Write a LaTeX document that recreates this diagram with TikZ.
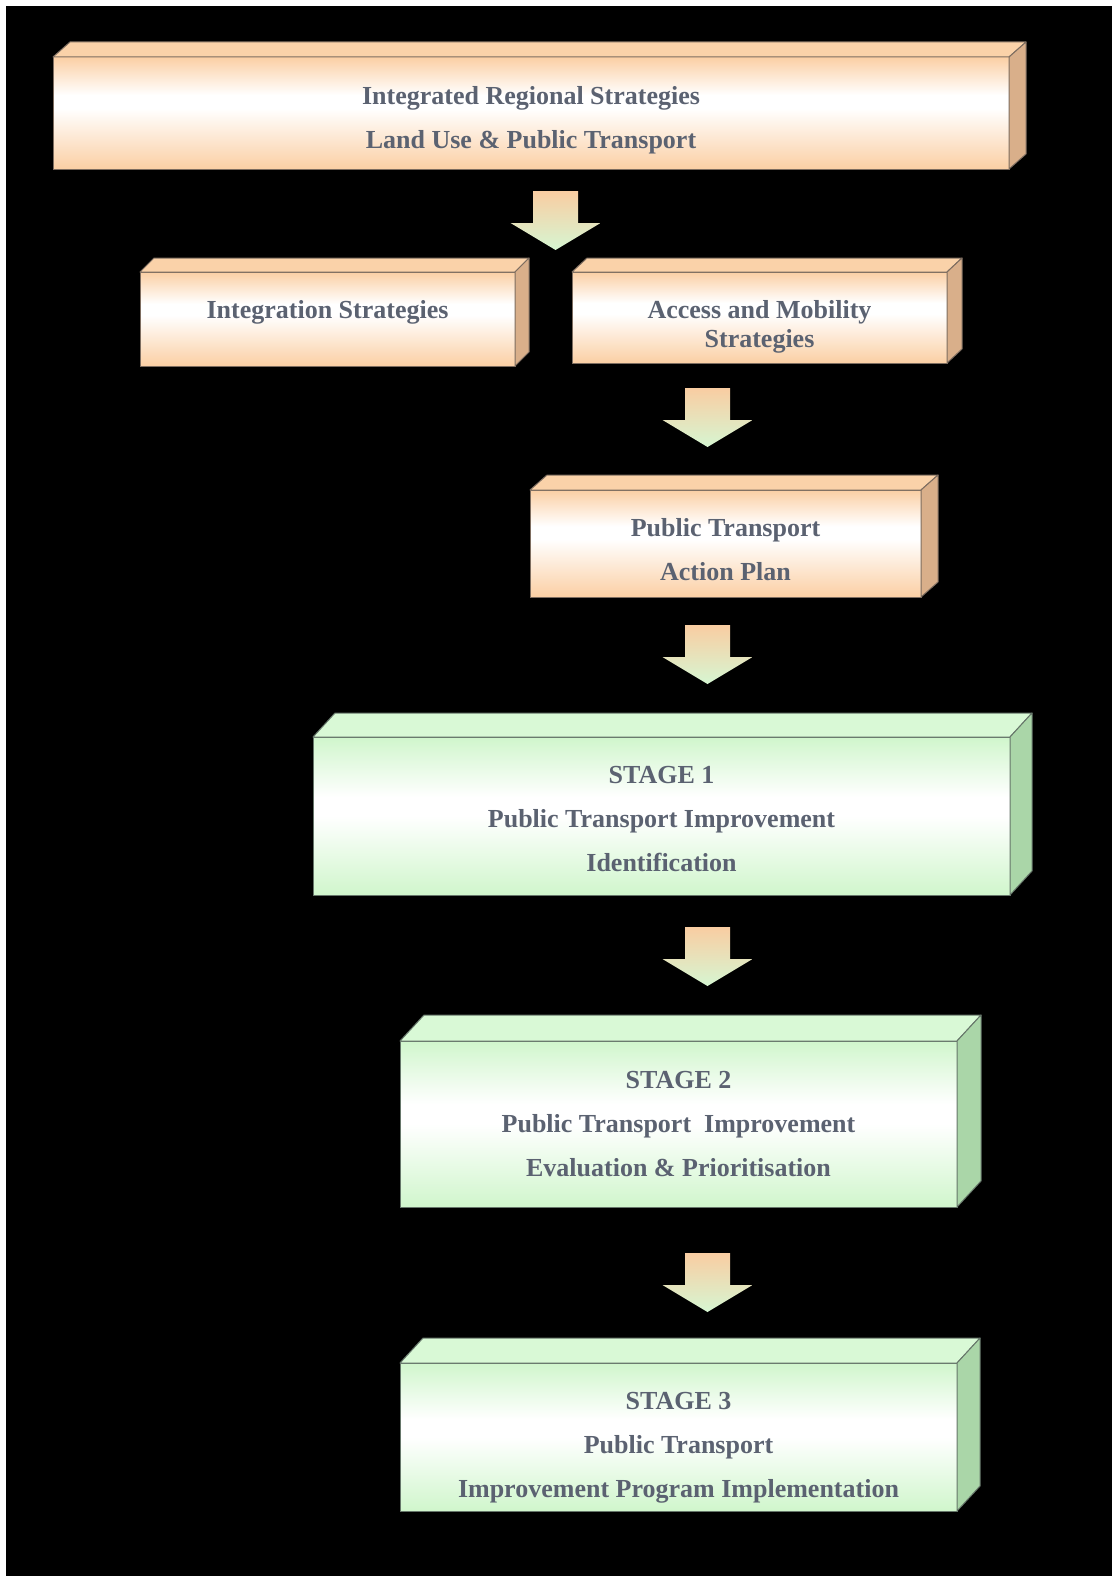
\documentclass[tikz,border=0pt]{standalone}
\usepackage{fontspec}
\setmainfont{Liberation Serif}
\usetikzlibrary{positioning,calc}
\definecolor{PeachFront}{HTML}{FBCFA4}
\definecolor{PeachTop}{HTML}{FAD2A9}
\definecolor{PeachSide}{HTML}{D9AF8A}
\definecolor{PeachLine}{HTML}{7D6D60}
\definecolor{MintFront}{HTML}{D0F6CC}
\definecolor{MintTop}{HTML}{D9F9D6}
\definecolor{MintSide}{HTML}{AAD6A8}
\definecolor{MintLine}{HTML}{66766A}
\definecolor{ArrowTop}{HTML}{F9CDA2}
\definecolor{ArrowTip}{HTML}{D6F6D2}
\definecolor{Ink}{HTML}{5B6271}

\pgfdeclareverticalshading{peachfade}{100bp}{color(0bp)=(PeachFront); color(25bp)=(PeachFront); color(52bp)=(white); color(58bp)=(white); color(75bp)=(PeachFront); color(100bp)=(PeachFront)}
\pgfdeclareverticalshading{mintfade}{100bp}{color(0bp)=(MintFront); color(25bp)=(MintFront); color(50bp)=(white); color(56bp)=(white); color(75bp)=(MintFront); color(100bp)=(MintFront)}

\tikzset{
  slab/.style={draw, line width=1pt, inner sep=0pt, outer sep=0pt},
  peachslab/.style={slab, draw=PeachLine, shade, shading=peachfade},
  mintslab/.style={slab, draw=MintLine, shade, shading=mintfade},
  slabtext/.style={inner sep=0pt, align=center, text=Ink,
    font=\fontsize{26}{44}\selectfont\bfseries},
  face/.style={line width=1pt, line join=round},
  flowarrow/.pic={
    \shade[top color=ArrowTop, bottom color=ArrowTip]
      (-22.5,0) -- (22.5,0) -- (22.5,32) -- (45,32) -- (0,59)
      -- (-45,32) -- (-22.5,32) -- cycle;
  }
}

\begin{document}
\begin{tikzpicture}[x=1pt,y=-1pt]
  \fill[white] (0,0) rectangle (1112,1576);
  \fill[black] (6,6) rectangle (1112,1576);
  \useasboundingbox (0,0) rectangle (1112,1576);

  % front faces
  \node[peachslab, minimum width=956pt, minimum height=112pt] (regional) at (531,113) {};
  \node[peachslab, minimum width=375pt, minimum height=94pt] (integ) at (327.5,319) {};
  \node[peachslab, minimum width=375pt, minimum height=91pt] (access) at (759.5,317.5) {};
  \node[peachslab, minimum width=391pt, minimum height=107pt] (plan) at (725.5,543.5) {};
  \node[mintslab, minimum width=697pt, minimum height=158pt] (stage1) at (661.5,816) {};
  \node[mintslab, minimum width=557pt, minimum height=166pt] (stage2) at (678.5,1124) {};
  \node[mintslab, minimum width=557pt, minimum height=148pt] (stage3) at (678.5,1437) {};

  % top and side faces
  \foreach \n/\dx/\dy/\tc/\sc/\lc in {regional/17/15/PeachTop/PeachSide/PeachLine,
      integ/14/14/PeachTop/PeachSide/PeachLine, access/15/14/PeachTop/PeachSide/PeachLine,
      plan/17/15/PeachTop/PeachSide/PeachLine, stage1/22/24/MintTop/MintSide/MintLine,
      stage2/24/26/MintTop/MintSide/MintLine, stage3/23/25/MintTop/MintSide/MintLine}{
    \filldraw[face, draw=\lc, fill=\tc] (\n.north west) -- ++(\dx,-\dy)
      -- ($(\n.north east)+(\dx,-\dy)$) -- (\n.north east) -- cycle;
    \filldraw[face, draw=\lc, fill=\sc] (\n.north east) -- ++(\dx,-\dy)
      -- ($(\n.south east)+(\dx,-\dy)$) -- (\n.south east) -- cycle;
  }

  % labels
  \node[slabtext] (regional-txt) at ($(regional.center)+(0,7)$)
    {Integrated Regional Strategies\\Land Use \& Public Transport};
  \node[slabtext] (integ-txt) at ($(integ.center)+(0,-7)$)
    {Integration Strategies};
  \node[slabtext, font=\fontsize{26}{29}\selectfont\bfseries] (access-txt)
    at ($(access.center)+(0,9)$) {Access and Mobility\\Strategies};
  \node[slabtext] (plan-txt) at ($(plan.center)+(0,6)$)
    {Public Transport\\Action Plan};
  \node[slabtext] (stage1-txt) at ($(stage1.center)+(0,3)$)
    {STAGE 1\\Public Transport Improvement\\Identification};
  \node[slabtext] (stage2-txt) at (stage2.center)
    {STAGE 2\\Public Transport\ \ Improvement\\Evaluation \& Prioritisation};
  \node[slabtext] (stage3-txt) at ($(stage3.center)+(0,11)$)
    {STAGE 3\\Public Transport\\Improvement Program Implementation};

  % block arrows
  \pic at (555.5,191) {flowarrow};
  \foreach \y in {388,625,927,1253}{
    \pic at (707.5,\y) {flowarrow};
  }
\end{tikzpicture}
\end{document}
